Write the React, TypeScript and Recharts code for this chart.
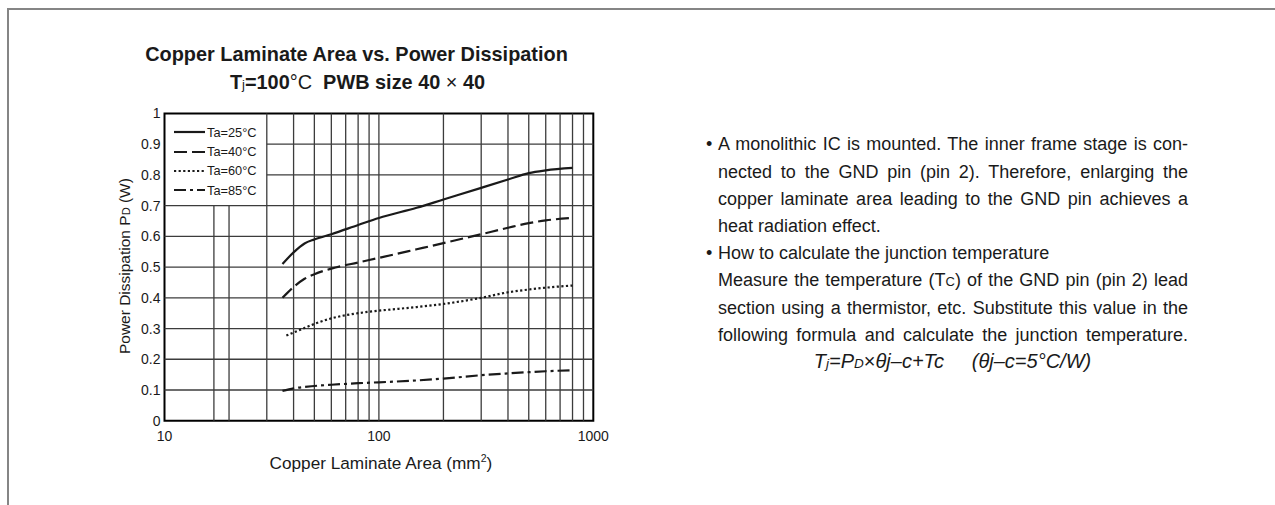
import React from 'react'
import {
  LineChart,
  Line,
  XAxis,
  YAxis,
  ReferenceLine,
  ReferenceArea,
  Legend,
} from 'recharts'

// axis ticks and grid
const xTicks = [10, 100, 1000]
const yTicks = [0, 0.1, 0.2, 0.3, 0.4, 0.5, 0.6, 0.7, 0.8, 0.9, 1]
const gridX = [17, 20, 30, 40, 50, 60, 70, 80, 90, 100, 200, 300, 400, 500, 600, 700, 800, 900]
const gridY = [0.1, 0.2, 0.3, 0.4, 0.5, 0.6, 0.7, 0.8, 0.9]
// legend box covers 10..30 mm2 and 0.7..1 W
const legendCornerX = 30
const legendCornerY = 0.7

// curves
const areaTa25 = [35.5, 40, 45, 50, 60, 80, 100, 150, 200, 300, 400, 500, 600, 800]
const pdTa25 = [0.51, 0.548, 0.577, 0.59, 0.607, 0.637, 0.66, 0.693, 0.72, 0.758, 0.785, 0.806, 0.815, 0.823]

const areaTa40 = [35.5, 40, 45, 50, 60, 80, 100, 150, 200, 300, 400, 500, 600, 800]
const pdTa40 = [0.4, 0.435, 0.462, 0.477, 0.495, 0.515, 0.53, 0.558, 0.578, 0.607, 0.628, 0.643, 0.652, 0.66]

const areaTa60 = [37, 45, 50, 60, 80, 100, 150, 200, 300, 400, 500, 600, 800]
const pdTa60 = [0.277, 0.302, 0.315, 0.333, 0.35, 0.358, 0.37, 0.38, 0.4, 0.418, 0.427, 0.433, 0.44]

const areaTa85 = [35.5, 40, 50, 60, 80, 100, 150, 200, 300, 400, 500, 600, 800]
const pdTa85 = [0.097, 0.105, 0.113, 0.117, 0.122, 0.125, 0.131, 0.137, 0.148, 0.154, 0.158, 0.161, 0.164]

const series = [
  { key: 'ta25', label: 'Ta=25°C', area: areaTa25, pd: pdTa25, dash: undefined },
  { key: 'ta40', label: 'Ta=40°C', area: areaTa40, pd: pdTa40, dash: '13 5' },
  { key: 'ta60', label: 'Ta=60°C', area: areaTa60, pd: pdTa60, dash: '2.2 2.4' },
  { key: 'ta85', label: 'Ta=85°C', area: areaTa85, pd: pdTa85, dash: '12 4 3 4' },
]

const FONT = '"Liberation Sans", Arial, Helvetica, sans-serif'
const INK = '#1a1a1a'
const GRID = '#3c3c3c'

const LegendBox = () => (
  <div style={{ display: 'flex', flexDirection: 'column', fontFamily: FONT }}>
    {series.map((s) => (
      <div key={s.key} style={{ height: 19.3, display: 'flex', alignItems: 'center' }}>
        <svg width={32} height={6} style={{ display: 'block' }}>
          <line x1={0} y1={3} x2={31} y2={3} stroke={INK} strokeWidth={2.2} strokeDasharray={s.dash} />
        </svg>
        <span style={{ fontSize: 12.8, marginLeft: 1, color: INK }}>{s.label}</span>
      </div>
    ))}
  </div>
)

const YLabel = ({ viewBox }: any) => {
  const x = viewBox.x + 6
  const y = viewBox.y + viewBox.height / 2 - 1
  return (
    <text x={x} y={y} transform={`rotate(-90 ${x} ${y})`} textAnchor="middle" fontSize={15.5} fill={INK} fontFamily={FONT}>
      Power Dissipation P<tspan fontSize={11}>D</tspan> (W)
    </text>
  )
}

const XLabel = ({ viewBox }: any) => {
  const x = viewBox.x + viewBox.width / 2 + 2
  const y = viewBox.y + 48
  return (
    <text x={x} y={y} textAnchor="middle" fontSize={17.2} fill={INK} fontFamily={FONT}>
      Copper Laminate Area (mm<tspan fontSize={10.5} dy={-6.5}>2</tspan><tspan dy={6.5}>)</tspan>
    </text>
  )
}

function PowerChart() {
  return (
    <LineChart
      width={640}
      height={505}
      margin={{ top: 113.5, right: 46.7, left: 124.5, bottom: 54.3 }}
    >
      <XAxis
        type="number"
        dataKey="x"
        scale="log"
        domain={[10, 1000]}
        ticks={xTicks}
        allowDataOverflow
        axisLine={false}
        tickLine={false}
        tickMargin={4}
        tick={{ fontSize: 14, fill: INK, fontFamily: FONT }}
        height={30}
        label={{ content: <XLabel /> }}
      />
      <YAxis
        type="number"
        dataKey="y"
        domain={[0, 1]}
        ticks={yTicks}
        axisLine={false}
        tickLine={false}
        tickSize={3}
        tickMargin={1}
        tick={{ fontSize: 14, fill: INK, fontFamily: FONT }}
        tickFormatter={(v: number) => String(v)}
        width={40}
        label={{ content: <YLabel /> }}
      />

      {gridX.map((v) => (
        <ReferenceLine
          key={`gx${v}`}
          segment={[{ x: v, y: 0 }, { x: v, y: v < legendCornerX ? legendCornerY : 1 }]}
          stroke={GRID}
          strokeWidth={1.3}
        />
      ))}
      {gridY.map((v) => (
        <ReferenceLine
          key={`gy${v}`}
          segment={[{ x: v > legendCornerY ? legendCornerX : 10, y: v }, { x: 1000, y: v }]}
          stroke={GRID}
          strokeWidth={1.3}
        />
      ))}
      <ReferenceArea x1={10} x2={1000} y1={0} y2={1} fill="none" stroke="#000" strokeWidth={2} />

      <Legend
        content={<LegendBox />}
        layout="vertical"
        align="center"
        verticalAlign="middle"
        wrapperStyle={{ left: 174, top: 122.6, width: 90 }}
      />

      {series.map((s) => (
        <Line
          key={s.key}
          data={s.area.map((x, i) => ({ x, y: s.pd[i] }))}
          dataKey="y"
          name={s.label}
          type="monotone"
          stroke={INK}
          strokeWidth={2.2}
          strokeDasharray={s.dash}
          dot={false}
          activeDot={false}
          isAnimationActive={false}
        />
      ))}
    </LineChart>
  )
}

const para1 = [
  'A monolithic IC is mounted. The inner frame stage is con-',
  'nected to the GND pin (pin 2). Therefore, enlarging the',
  'copper laminate area leading to the GND pin achieves a',
]
const para2 = [
  'section using a thermistor, etc. Substitute this value in the',
  'following formula and calculate the junction temperature.',
]

const lineStyle: React.CSSProperties = {
  height: 27.2,
  lineHeight: '27.2px',
  whiteSpace: 'nowrap',
  textAlign: 'justify',
  textAlignLast: 'justify',
}

export default function App() {
  return (
    <div
      style={{
        position: 'absolute',
        left: 0,
        top: 0,
        width: 1275,
        height: 505,
        background: '#fff',
        overflow: 'hidden',
        fontFamily: FONT,
        color: INK,
      }}
    >
      <div
        style={{
          position: 'absolute',
          left: 7,
          top: 8,
          width: 1400,
          height: 600,
          borderTop: '2px solid #858585',
          borderLeft: '2px solid #858585',
        }}
      />

      <div style={{ position: 'absolute', left: 0, top: 0 }}>
        <PowerChart />
      </div>

      <div
        style={{
          position: 'absolute',
          left: 100,
          width: 513,
          top: 40,
          textAlign: 'center',
          fontWeight: 'bold',
          fontSize: 19.9,
          lineHeight: '28px',
          whiteSpace: 'nowrap',
        }}
      >
        <div>Copper Laminate Area vs. Power Dissipation</div>
        <div style={{ marginLeft: 2 }}>
          T<span style={{ fontSize: 13, fontWeight: 'normal' }}>j</span>=100
          <span style={{ fontWeight: 'normal' }}>°C</span>&nbsp;&nbsp;PWB size 40{' '}
          <span style={{ fontWeight: 'normal' }}>×</span> 40
        </div>
      </div>

      <div style={{ position: 'absolute', left: 718, top: 131.4, width: 470, fontSize: 18 }}>
        <span style={{ position: 'absolute', left: -12, top: 0, lineHeight: '27.2px' }}>•</span>
        {para1.map((t) => (
          <div key={t} style={lineStyle}>{t}</div>
        ))}
        <div style={{ ...lineStyle, textAlignLast: 'left' }}>heat radiation effect.</div>
        <div style={{ position: 'relative' }}>
          <span style={{ position: 'absolute', left: -12, top: 0, lineHeight: '27.2px' }}>•</span>
        </div>
        <div style={{ ...lineStyle, textAlignLast: 'left' }}>How to calculate the junction temperature</div>
        <div style={lineStyle}>
          Measure the temperature (T<span style={{ fontSize: 13 }}>C</span>) of the GND pin (pin 2) lead
        </div>
        {para2.map((t) => (
          <div key={t} style={lineStyle}>{t}</div>
        ))}
        <div
          style={{
            height: 25,
            lineHeight: '25px',
            fontStyle: 'italic',
            textAlign: 'center',
            whiteSpace: 'nowrap',
            marginLeft: -1,
            fontSize: 20,
          }}
        >
          T<span style={{ fontSize: 13.5 }}>j</span>=P<span style={{ fontSize: 13.5 }}>D</span>
          <span style={{ fontStyle: 'normal' }}>×</span>θj–c+Tc&nbsp;&nbsp;&nbsp;&nbsp;&nbsp;(θj–c=5°C/W)
        </div>
      </div>
    </div>
  )
}
